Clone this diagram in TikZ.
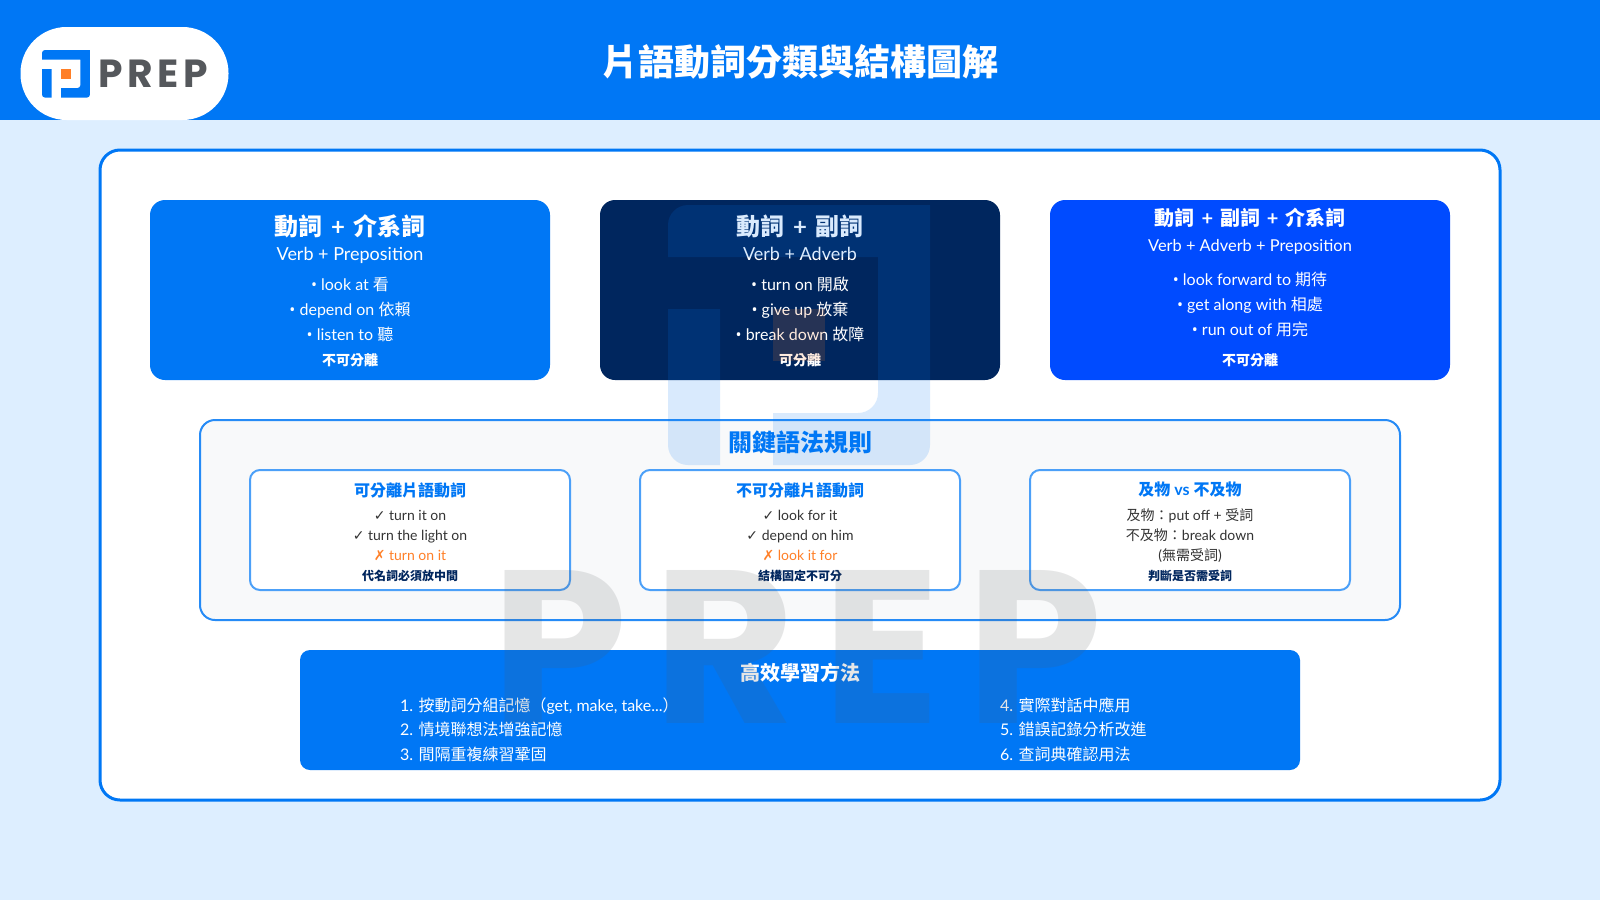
\documentclass[tikz,border=0pt]{standalone}
\usepackage{fontspec}
\setmainfont{Lato}
\newfontfamily\zhfont{Noto Sans CJK TC}
\newfontfamily\symfont{DejaVu Sans}
\newfontfamily\dotfont{Open Sans}
\newfontfamily\logofont[LetterSpace=12]{Poppins}
\newcommand{\zh}[1]{{\zhfont #1}}
\newcommand{\yes}{{\symfont ✓}}
\newcommand{\no}{{\symfont ✗}}
\newcommand{\itemdot}{{\dotfont •}}
\newcommand{\plusgap}{\hspace{.1em} + \hspace{.1em}}
\newcommand{\pxfont}[2]{\fontsize{#1}{#2}\selectfont}
\definecolor{prepblue}{HTML}{0077F5}
\definecolor{prepnavy}{HTML}{00265E}
\definecolor{prepbright}{HTML}{004BFF}
\definecolor{prepsky}{HTML}{DDEEFF}
\definecolor{preporange}{HTML}{FF7F27}
\definecolor{prepgray}{HTML}{55585C}
\definecolor{prepline}{HTML}{F8F9FA}

\begin{document}
\begin{tikzpicture}[
        x=0.5pt, y=-0.5pt,
        every node/.style={inner sep=0pt, outer sep=0pt},
        cardbox/.style={rectangle, rounded corners=7.5pt, minimum width=200pt, minimum height=90pt},
        rulebox/.style={rectangle, rounded corners=5pt, draw=prepblue!70, line width=1pt, fill=white, minimum width=160pt, minimum height=60pt},
        cardtitle/.style={text=white, font=\bfseries\pxfont{12}{14}},
        cardsub/.style={text=white, anchor=base, font=\pxfont{9}{12}},
        carditems/.style={text=white, align=center, font=\pxfont{8}{12.5}},
        cardnote/.style={text=white, font=\bfseries\pxfont{7}{9}},
        ruletitle/.style={text=prepblue, font=\bfseries\pxfont{8}{10}},
        ruleitems/.style={text=black!80, align=center, font=\pxfont{7}{10}},
        rulenote/.style={text=prepnavy, font=\bfseries\pxfont{6}{8}},
        tiplist/.style={text=white, anchor=west, align=left, font=\pxfont{8}{12.25}},
        pics/prepicon/.style={code={
            \fill (0,52) [rounded corners=#1] -- (0,0) [sharp corners] -- (262,0) [rounded corners=#1] -- (262,260) [sharp corners] -- (105,260) -- (105,208) [rounded corners=#1] -- (210,208) [sharp corners] -- (210,52) -- cycle;
            \fill (0,104) -- (52,104) -- (52,260) [rounded corners=#1] -- (0,260) [sharp corners] -- cycle;
            \fill[preporange] (105,104) rectangle (157,156);
        }}
    ]
        \useasboundingbox (0,0) rectangle (1600,900);

        % Background and header
        \fill[prepsky] (0,0) rectangle (1600,900);
        \node [rectangle, fill=prepblue, minimum width=800pt, minimum height=60pt] (header) at (800,60) {};
        \node [rectangle, fill=white, rounded corners=23pt, minimum width=104pt, minimum height=46.5pt] (logopill) at (124.5,73.5) {};
        \pic [prepblue, scale=.183] at (42,50) {prepicon=1.5pt};
        \node [text=prepgray, anchor=west, font=\logofont\bfseries\pxfont{19.6}{22}] (logotext) at (98,74) {PREP};
        \node [text=white, font=\bfseries\pxfont{18}{22}] (maintitle) at (800,62) {\zh{片語動詞分類與結構圖解}};

        % Main panel
        \node [rectangle, draw=prepblue, line width=1.5pt, fill=white, rounded corners=10pt, minimum width=700pt, minimum height=325pt] (panel) at (800,475) {};

        % Top row
        \node [cardbox, fill=prepblue] (prepcard) at (350,290) {};
        \node [cardtitle] (preptitle) at (350,226) {\zh{動詞}\plusgap\zh{介系詞}};
        \node [cardsub] (prepsub) at (350,260.5) {Verb + Preposition};
        \node [carditems] (prepitems) at (350,309) {\itemdot{} look at \zh{看}\\\itemdot{} depend on \zh{依賴}\\\itemdot{} listen to \zh{聽}};
        \node [cardnote] (prepnote) at (350,360) {\zh{不可分離}};

        \node [cardbox, fill=prepnavy] (advcard) at (800,290) {};
        \node [cardtitle] (advtitle) at (800,226) {\zh{動詞}\plusgap\zh{副詞}};
        \node [cardsub] (advsub) at (800,260.5) {Verb + Adverb};
        \node [carditems] (advitems) at (800,309) {\itemdot{} turn on \zh{開啟}\\\itemdot{} give up \zh{放棄}\\\itemdot{} break down \zh{故障}};
        \node [cardnote] (advnote) at (800,360) {\zh{可分離}};

        \node [cardbox, fill=prepbright] (bothcard) at (1250,290) {};
        \node [cardtitle, font=\bfseries\pxfont{10}{13}] (bothtitle) at (1250,218) {\zh{動詞}\plusgap\zh{副詞}\plusgap\zh{介系詞}};
        \node [cardsub, font=\pxfont{8.2}{11}] (bothsub) at (1250,251) {Verb + Adverb + Preposition};
        \node [carditems] (bothitems) at (1250,304.5) {\itemdot{} look forward to \zh{期待}\\\itemdot{} get along with \zh{相處}\\\itemdot{} run out of \zh{用完}};
        \node [cardnote] (bothnote) at (1250,360) {\zh{不可分離}};

        % Rules
        \node [rectangle, draw=prepblue!85, line width=1pt, fill=prepline, rounded corners=7.5pt, minimum width=600pt, minimum height=100pt] (rules) at (800,520) {};
        \node [text=prepblue, font=\bfseries\pxfont{12}{14}] (rulestitle) at (800,442) {\zh{關鍵語法規則}};

        \node [rulebox] (sepbox) at (410,530) {};
        \node [ruletitle] (septitle) at (410,490) {\zh{可分離片語動詞}};
        \node [ruleitems] (sepitems) at (410,535) {\yes{} turn it on\\\yes{} turn the light on\\\textcolor{preporange}{\no{} turn on it}};
        \node [rulenote] (sepnote) at (410,576) {\zh{代名詞必須放中間}};

        \node [rulebox] (insepbox) at (800,530) {};
        \node [ruletitle] (inseptitle) at (800,490) {\zh{不可分離片語動詞}};
        \node [ruleitems] (insepitems) at (800,535) {\yes{} look for it\\\yes{} depend on him\\\textcolor{preporange}{\no{} look it for}};
        \node [rulenote] (insepnote) at (800,576) {\zh{結構固定不可分}};

        \node [rulebox] (transbox) at (1190,530) {};
        \node [ruletitle] (transtitle) at (1190,490) {\zh{及物} vs \zh{不及物}};
        \node [ruleitems] (transitems) at (1190,536) {\zh{及物：}put off + \zh{受詞}\\\zh{不及物：}break down\\(\zh{無需受詞})};
        \node [rulenote] (transnote) at (1190,576) {\zh{判斷是否需受詞}};

        % Study tips
        \node [rectangle, fill=prepblue, rounded corners=5pt, minimum width=500pt, minimum height=60pt] (tips) at (800,710) {};
        \node [text=white, font=\bfseries\pxfont{10}{12}] (tipstitle) at (800,673) {\zh{高效學習方法}};
        \node [tiplist] (tipsleft) at (400,729.5) {1. \zh{按動詞分組記憶（}get, make, take...\zh{）}\\2. \zh{情境聯想法增強記憶}\\3. \zh{間隔重複練習鞏固}};
        \node [tiplist] (tipsright) at (1000,729.5) {4. \zh{實際對話中應用}\\5. \zh{錯誤記錄分析改進}\\6. \zh{查詞典確認用法}};

        % Watermark
        \pic [prepblue, opacity=.15] at (668,205) {prepicon=10pt};
        \node [text=prepgray, text opacity=.15, font=\logofont\bfseries\pxfont{109}{120}] (watermark) at (797,647) {PREP};
    \end{tikzpicture}
\end{document}
